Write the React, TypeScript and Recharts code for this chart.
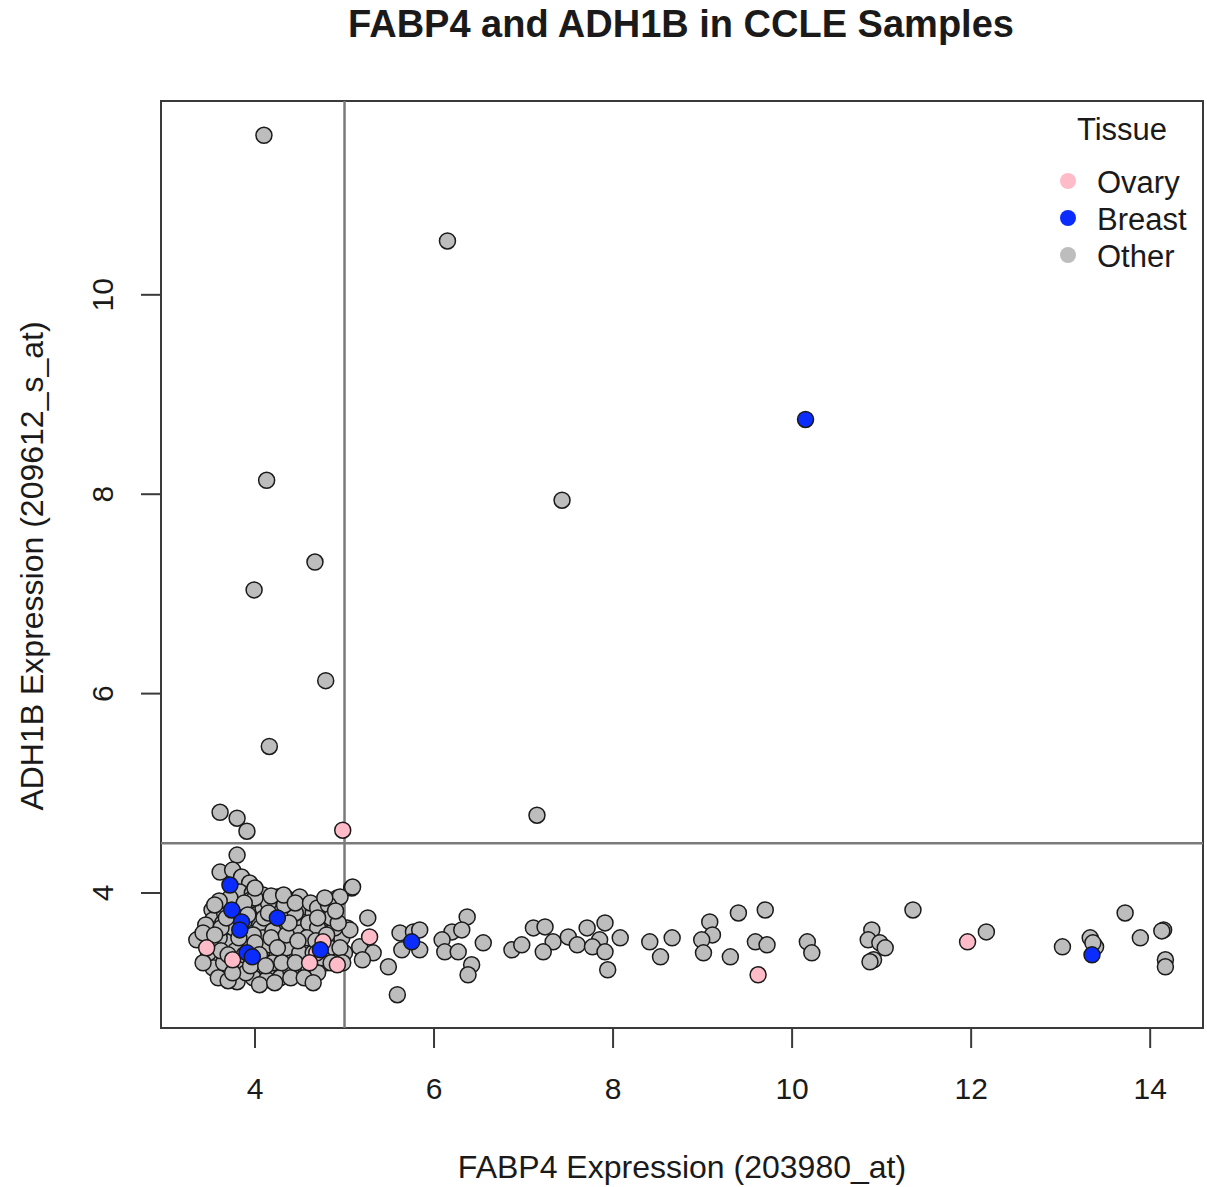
import React from "react"
import {
  ScatterChart,
  Scatter,
  XAxis,
  YAxis,
  ReferenceLine,
  ReferenceArea,
  Customized,
} from "recharts"

// FABP4 (x) vs ADH1B (y) expression
const otherPoints: [number, number][] = [
  // outliers above the cut
  [4.1, 11.6], [6.15, 10.54], [4.13, 8.14], [7.43, 7.94], [4.67, 7.32],
  [3.99, 7.04], [4.79, 6.13], [4.16, 5.47], [3.61, 4.81], [3.8, 4.75],
  [3.91, 4.62], [7.15, 4.78], [3.8, 4.38],
  // main cluster (FABP4 < 5)
  [3.61, 4.21], [3.75, 4.23], [3.85, 4.16], [3.94, 4.1],
  [3.83, 4.01], [3.97, 4.0], [4.09, 3.98], [4.25, 3.96], [4.39, 3.93],
  [4.5, 3.96], [4.54, 3.86], [4.65, 3.8], [4.76, 3.78],
  [4.92, 3.95], [5.08, 4.05], [4.95, 3.96], [5.09, 4.06],
  [3.52, 3.83], [3.94, 3.83], [4.09, 3.85], [4.25, 3.83], [4.36, 3.81],
  [3.53, 3.73], [3.64, 3.7], [4.02, 3.7], [4.42, 3.71], [4.54, 3.68],
  [3.39, 3.55], [3.52, 3.63], [3.69, 3.61], [3.89, 3.63], [4.06, 3.65],
  [4.25, 3.65], [4.39, 3.63], [4.5, 3.6], [4.61, 3.58], [4.87, 3.61], [5.03, 3.65],
  [3.58, 3.46], [3.72, 3.51], [3.91, 3.53], [4.09, 3.55], [4.28, 3.53],
  [4.42, 3.5], [4.58, 3.46], [4.92, 3.51],
  [3.58, 3.35], [4.09, 3.43], [4.25, 3.38], [4.39, 3.33], [4.54, 3.36], [4.87, 3.38],
  [3.53, 3.25], [3.69, 3.23], [3.83, 3.2], [4.02, 3.23], [4.17, 3.2],
  [4.31, 3.23], [4.47, 3.26], [4.8, 3.3],
  [3.8, 3.11], [3.98, 3.15], [4.13, 3.13], [4.28, 3.15], [3.59, 3.15], [3.35, 3.53],
  [3.7, 3.9], [3.8, 3.78], [3.66, 3.8], [3.95, 3.93], [4.15, 3.9], [4.3, 3.75],
  [4.45, 3.8], [4.6, 3.7], [4.7, 3.65], [3.45, 3.68], [3.6, 3.55], [3.78, 3.42],
  [3.95, 3.4], [4.15, 3.48], [4.35, 3.45], [4.5, 3.4], [4.65, 3.4], [3.48, 3.4],
  [3.65, 3.3], [3.85, 3.3], [4.0, 3.32], [4.2, 3.3], [4.4, 3.22], [4.6, 3.25],
  [3.72, 3.95], [3.88, 3.72], [4.1, 3.75], [4.2, 3.62], [3.5, 3.5], [3.76, 3.65],
  [3.98, 3.58], [4.33, 3.88], [4.58, 3.55], [3.62, 3.42], [3.9, 3.2], [4.05, 3.08],
  [3.7, 3.12], [4.22, 3.1], [4.4, 3.15], [4.75, 3.5], [4.83, 3.45], [4.97, 3.55],
  [5.0, 3.4], [4.7, 3.2], [4.89, 3.65], [5.06, 3.63],
  [4.0, 3.95], [4.18, 3.97], [4.32, 3.98], [4.45, 3.9], [4.62, 3.9], [4.7, 3.85],
  [4.82, 3.88], [4.85, 3.75], [4.0, 4.05], [3.88, 3.9], [3.6, 3.92], [3.55, 3.88],
  [3.42, 3.6], [3.62, 3.65], [3.82, 3.55], [4.0, 3.5], [4.18, 3.55], [4.35, 3.58],
  [4.48, 3.52], [4.68, 3.52], [4.8, 3.58], [4.95, 3.45], [3.7, 3.38], [3.88, 3.38],
  [4.05, 3.38], [4.3, 3.3], [4.45, 3.3], [4.55, 3.15], [4.75, 3.35], [3.55, 3.58],
  [3.42, 3.3], [3.75, 3.2], [3.95, 3.27], [4.12, 3.27], [4.25, 3.45], [3.68, 3.75],
  [3.92, 3.78], [4.15, 3.8], [4.38, 3.7], [4.7, 3.75], [4.93, 3.7], [4.85, 3.3],
  [4.65, 3.1], [4.78, 3.95], [4.9, 3.82], [4.98, 3.3],
  // tail along FABP4 > 5
  [5.26, 3.75], [5.17, 3.46], [5.32, 3.4], [5.2, 3.33], [5.49, 3.26],
  [5.62, 3.6], [5.77, 3.61], [5.64, 3.43], [5.59, 2.98], [5.84, 3.63], [5.84, 3.43],
  [6.37, 3.76], [6.2, 3.61], [6.31, 3.63], [6.09, 3.53], [6.12, 3.41], [6.27, 3.41],
  [6.55, 3.5], [6.42, 3.28], [6.38, 3.18], [6.87, 3.43], [6.98, 3.48],
  [7.11, 3.65], [7.24, 3.66], [7.33, 3.51], [7.22, 3.41], [7.5, 3.56], [7.6, 3.48],
  [7.71, 3.65], [7.91, 3.7], [7.85, 3.53], [7.77, 3.46], [7.91, 3.41], [8.08, 3.55],
  [7.94, 3.23], [8.41, 3.51], [8.66, 3.55], [8.53, 3.36],
  [9.08, 3.71], [9.11, 3.58], [8.99, 3.53], [9.01, 3.4], [9.31, 3.36],
  [9.4, 3.8], [9.7, 3.83], [9.59, 3.51], [9.72, 3.48], [10.17, 3.51], [10.22, 3.4],
  [11.35, 3.83], [10.89, 3.63], [10.85, 3.53], [10.98, 3.5], [11.04, 3.45],
  [10.91, 3.33], [10.87, 3.31], [12.17, 3.61], [13.02, 3.46],
  [13.33, 3.55], [13.39, 3.46], [13.36, 3.5], [13.72, 3.8], [13.89, 3.55],
  [14.15, 3.63], [14.13, 3.62], [14.17, 3.33], [14.17, 3.26],
]

const ovaryPoints: [number, number][] = [
  [4.98, 4.63], [5.28, 3.56], [9.62, 3.18], [11.96, 3.51],
  [3.46, 3.45], [3.75, 3.33], [4.69, 3.4], [4.76, 3.51], [4.61, 3.3], [4.92, 3.28],
]

const breastPoints: [number, number][] = [
  [10.15, 8.75], [3.72, 4.08], [3.74, 3.83], [3.85, 3.71], [3.83, 3.63],
  [4.25, 3.75], [3.91, 3.4], [3.97, 3.36], [4.73, 3.43], [5.75, 3.51], [13.35, 3.38],
]

const xTicks = [4, 6, 8, 10, 12, 14]
const yTicks = [4, 6, 8, 10]
const xDomain: [number, number] = [2.95, 14.59]
const yDomain: [number, number] = [2.646, 11.944]

const legendItems = [
  { name: "Ovary", color: "#ffbcc8" },
  { name: "Breast", color: "#0a2cff" },
  { name: "Other", color: "#bdbdbd" },
]

const toRows = (pts: [number, number][]) => pts.map(([x, y]) => ({ x, y }))

const FONT = "'Liberation Sans', Arial, Helvetica, sans-serif"
const INK = "#1a1a1a"

const dot = (fill: string) => (props: any) => (
  <circle cx={props.cx} cy={props.cy} r={8} fill={fill} stroke="#1a1a1a" strokeWidth={1.5} />
)

function XTick({ x, payload }: any) {
  return (
    <text x={x} y={1099} textAnchor="middle" fontSize={30} fontFamily={FONT} fill={INK}>
      {payload.value}
    </text>
  )
}

function YTick({ y, payload }: any) {
  return (
    <text
      x={113}
      y={y}
      transform={`rotate(-90, 113, ${y})`}
      textAnchor="middle"
      fontSize={30}
      fontFamily={FONT}
      fill={INK}
    >
      {payload.value}
    </text>
  )
}

function Decorations() {
  return (
    <g fontFamily={FONT} fill={INK}>
      <text x={681} y={37} textAnchor="middle" fontSize={38} fontWeight="bold">
        FABP4 and ADH1B in CCLE Samples
      </text>
      <text x={682} y={1178} textAnchor="middle" fontSize={32}>
        FABP4 Expression (203980_at)
      </text>
      <text x={43} y={566} textAnchor="middle" fontSize={32} transform="rotate(-90, 43, 566)">
        ADH1B Expression (209612_s_at)
      </text>
      <text x={1122} y={140} textAnchor="middle" fontSize={31}>
        Tissue
      </text>
      {legendItems.map((item, i) => (
        <g key={item.name}>
          <circle cx={1068} cy={181 + i * 37} r={8} fill={item.color} />
          <text x={1097} y={193 + i * 37} fontSize={31}>
            {item.name}
          </text>
        </g>
      ))}
    </g>
  )
}

export default function App() {
  return (
    <div style={{ position: "absolute", left: 0, top: 0, background: "#fff" }}>
      <ScatterChart width={1207} height={1187} margin={{ top: 101, right: 4, bottom: 0, left: 0 }}>
        <XAxis
          type="number"
          dataKey="x"
          domain={xDomain}
          ticks={xTicks}
          allowDataOverflow
          height={159}
          tickSize={20}
          axisLine={false}
          tickLine={{ stroke: "#3a3a3a", strokeWidth: 2 }}
          tick={<XTick />}
        />
        <YAxis
          type="number"
          dataKey="y"
          domain={yDomain}
          ticks={yTicks}
          allowDataOverflow
          width={161}
          tickSize={20}
          axisLine={false}
          tickLine={{ stroke: "#3a3a3a", strokeWidth: 2 }}
          tick={<YTick />}
        />
        <Scatter data={toRows(otherPoints)} shape={dot("#bdbdbd")} isAnimationActive={false} />
        <Scatter data={toRows(ovaryPoints)} shape={dot("#ffbcc8")} isAnimationActive={false} />
        <Scatter data={toRows(breastPoints)} shape={dot("#0a2cff")} isAnimationActive={false} />
        <ReferenceLine x={5} stroke="#7a7a7a" strokeWidth={2.5} />
        <ReferenceLine y={4.5} stroke="#7a7a7a" strokeWidth={2.5} />
        <ReferenceArea
          x1={xDomain[0]}
          x2={xDomain[1]}
          y1={yDomain[0]}
          y2={yDomain[1]}
          fill="none"
          fillOpacity={0}
          stroke="#3a3a3a"
          strokeWidth={2}
        />
        <Customized component={Decorations} />
      </ScatterChart>
    </div>
  )
}
